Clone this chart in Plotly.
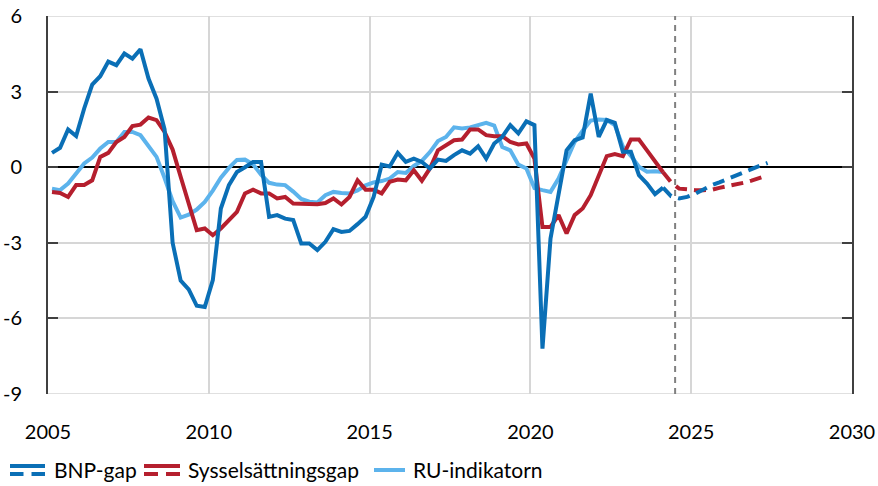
import plotly.graph_objects as go

# Quarterly data, first quarter = 2005Q1
start_year = 2005
bnp_gap = [0.57, 0.77, 1.5, 1.24, 2.33, 3.28, 3.61, 4.19, 4.05, 4.51, 4.31, 4.68,
           3.52, 2.72, 1.5, -3.0, -4.5, -4.85, -5.5, -5.55, -4.48, -1.64, -0.71, -0.19,
           0.0, 0.21, 0.21, -1.97, -1.9, -2.04, -2.1, -3.03, -3.03, -3.29, -2.96, -2.46,
           -2.57, -2.53, -2.26, -1.97, -1.18, 0.1, 0.03, 0.57, 0.21, 0.34, 0.21, -0.05,
           0.30, 0.25, 0.48, 0.67, 0.54, 0.83, 0.34, 0.94, 1.2, 1.67, 1.34, 1.82,
           1.67, -7.2, -2.83, -1.1, 0.67, 1.07, 1.18, 2.92, 1.2, 1.87, 1.76, 0.61,
           0.61, -0.32, -0.65, -1.07, -0.81]
bnp_gap_forecast = [-0.81, -1.15, -1.24, -1.18, -1.05, -0.87, -0.72, -0.6, -0.48, -0.36,
                    -0.22, -0.08, 0.05, 0.17]
syss_gap = [-0.98, -1.02, -1.18, -0.71, -0.71, -0.52, 0.41, 0.57, 1.0, 1.2, 1.63, 1.69,
            1.97, 1.87, 1.4, 0.7, -0.38, -1.44, -2.5, -2.43, -2.7, -2.43, -2.1, -1.77,
            -1.04, -0.89, -1.04, -1.04, -1.24, -1.18, -1.44, -1.44, -1.47, -1.47, -1.42, -1.24,
            -1.48, -1.18, -0.52, -0.89, -0.89, -1.04, -0.58, -0.49, -0.52, -0.12, -0.54, -0.05,
            0.67, 0.87, 1.07, 1.1, 1.5, 1.5, 1.27, 1.23, 1.23, 1.0, 0.9, 0.94,
            0.34, -2.37, -2.37, -1.9, -2.63, -1.9, -1.64, -1.11, -0.32, 0.44, 0.52, 0.44,
            1.1, 1.1, 0.67, 0.21, -0.2]
syss_gap_forecast = [-0.2, -0.6, -0.85, -0.9, -0.91, -0.91, -0.9, -0.82, -0.76, -0.7,
                     -0.62, -0.53, -0.43, -0.32]
ru_indikator = [-0.85, -0.91, -0.65, -0.25, 0.15, 0.38, 0.74, 1.0, 1.0, 1.4, 1.4, 1.27,
                0.85, 0.41, -0.43, -1.35, -2.0, -1.88, -1.68, -1.38, -0.93, -0.42, -0.03, 0.29,
                0.3, 0.12, -0.3, -0.62, -0.69, -0.71, -0.97, -1.26, -1.37, -1.4, -1.11, -0.98,
                -1.02, -1.04, -0.92, -0.72, -0.6, -0.55, -0.45, -0.19, -0.23, 0.05, 0.25, 0.6,
                1.04, 1.2, 1.58, 1.54, 1.58, 1.65, 1.76, 1.65, 0.8, 0.67, 0.1, -0.05,
                -0.83, -0.91, -0.98, -0.45, 0.25, 1.0, 1.45, 1.85, 1.89, 1.87, 1.67, 0.82,
                0.45, 0.02, -0.18, -0.16, -0.19]
forecast_start_index = len(bnp_gap) - 1
forecast_marker_year = 2024.5
x_ticks = [2005, 2010, 2015, 2020, 2025, 2030]
y_ticks = [-9, -6, -3, 0, 3, 6]
series_names = ["BNP-gap", "Sysselsättningsgap", "RU-indikatorn"]


def qx(i):
    return start_year + i / 4 + 0.125


C_BNP = "#0A6FB6"
C_SYS = "#B51F2E"
C_RU = "#5CB3EC"
GRID = "#D6D6D6"
FONT = "Lato"
LW = 4

fig = go.Figure()
hist_x = [qx(i) for i in range(len(bnp_gap))]
fc_x = [qx(forecast_start_index + i) for i in range(len(bnp_gap_forecast))]

fig.add_trace(go.Scatter(x=hist_x, y=ru_indikator, mode="lines",
                         line=dict(color=C_RU, width=LW), name=series_names[2], showlegend=False))
fig.add_trace(go.Scatter(x=hist_x, y=syss_gap, mode="lines",
                         line=dict(color=C_SYS, width=LW), name=series_names[1], showlegend=False))
fig.add_trace(go.Scatter(x=fc_x, y=syss_gap_forecast, mode="lines",
                         line=dict(color=C_SYS, width=LW, dash="12px,7px"), showlegend=False))
fig.add_trace(go.Scatter(x=hist_x, y=bnp_gap, mode="lines",
                         line=dict(color=C_BNP, width=LW), name=series_names[0], showlegend=False))
fig.add_trace(go.Scatter(x=fc_x, y=bnp_gap_forecast, mode="lines",
                         line=dict(color=C_BNP, width=LW, dash="12px,7px"), showlegend=False))

W, H = 878, 486
L, R, T, B = 48, 26, 16, 92
PW, PH = W - L - R, H - T - B


def px(xp):
    return (xp - L) / PW


def py(yp):
    return (H - B - yp) / PH


shapes = [
    dict(type="line", xref="paper", yref="y", x0=0, x1=1, y0=y_ticks[-1], y1=y_ticks[-1],
         line=dict(color=GRID, width=1.5), layer="below"),
    dict(type="line", xref="paper", yref="y", x0=0, x1=1, y0=y_ticks[0], y1=y_ticks[0],
         line=dict(color=GRID, width=1.5), layer="below"),
    dict(type="line", xref="x", yref="paper", x0=forecast_marker_year, x1=forecast_marker_year,
         y0=0, y1=1, line=dict(color="#808080", width=2, dash="6px,5px"), layer="below"),
]
annotations = []

# manual legend
leg_y = 470
items = [
    (10, 45, 52, series_names[0], C_BNP, True),
    (144, 180, 186, series_names[1], C_SYS, True),
    (374, 405, 411, series_names[2], C_RU, False),
]
for x0, x1, tx, label, col, two in items:
    if two:
        shapes.append(dict(type="line", xref="paper", yref="paper", x0=px(x0), x1=px(x1),
                           y0=py(leg_y - 4), y1=py(leg_y - 4), line=dict(color=col, width=4)))
        mid = (x0 + x1) / 2
        shapes.append(dict(type="line", xref="paper", yref="paper", x0=px(x0), x1=px(mid - 4),
                           y0=py(leg_y + 4), y1=py(leg_y + 4), line=dict(color=col, width=4)))
        shapes.append(dict(type="line", xref="paper", yref="paper", x0=px(mid + 4), x1=px(x1),
                           y0=py(leg_y + 4), y1=py(leg_y + 4), line=dict(color=col, width=4)))
    else:
        shapes.append(dict(type="line", xref="paper", yref="paper", x0=px(x0), x1=px(x1),
                           y0=py(leg_y), y1=py(leg_y), line=dict(color=col, width=4)))
    annotations.append(dict(xref="paper", yref="paper", x=px(tx), y=py(leg_y), text=label,
                            showarrow=False, xanchor="left", yanchor="middle",
                            font=dict(family=FONT, size=21, color="#000000")))

fig.update_layout(
    width=W, height=H,
    margin=dict(l=L, r=R, t=T, b=B, autoexpand=False),
    plot_bgcolor="white", paper_bgcolor="white",
    font=dict(family=FONT, size=20, color="#000000"),
    showlegend=False,
    shapes=shapes,
    annotations=annotations,
    xaxis=dict(range=[2005, 2030], tickvals=x_ticks, ticktext=[str(v) for v in x_ticks],
               showgrid=True, gridcolor=GRID, gridwidth=1.5, automargin=False,
               showline=False, zeroline=False, ticks="", ticklabelstandoff=24,
               tickfont=dict(family=FONT, size=20)),
    yaxis=dict(range=[-9, 6], tickvals=y_ticks, ticktext=[str(v) for v in y_ticks],
               showgrid=True, gridcolor=GRID, gridwidth=1.5, automargin=False,
               zeroline=True, zerolinecolor="#000000", zerolinewidth=2,
               showline=True, linecolor="#404040", linewidth=2, mirror="ticks",
               ticks="inside", ticklen=10, tickwidth=2, tickcolor="#404040",
               ticklabelstandoff=20, tickfont=dict(family=FONT, size=20)),
)

fig.write_html("out.html", config={"displayModeBar": False},
               post_script="document.body.style.margin='0';document.body.style.overflow='hidden';")
